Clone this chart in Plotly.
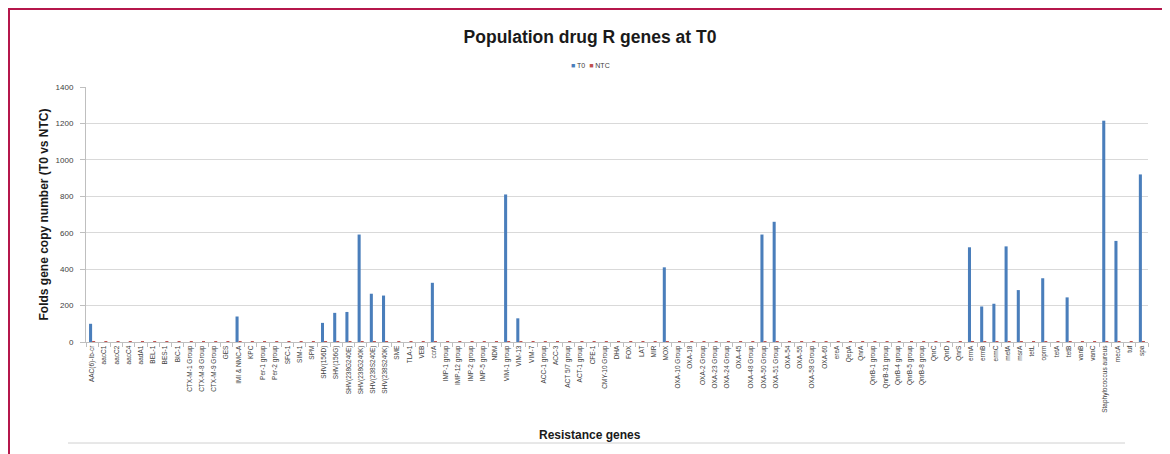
import plotly.graph_objects as go

genes = [
    "AAC(6)-Ib-cr", "aacC1", "aacC2", "aacC4", "aadA1", "BEL-1", "BES-1", "BIC-1",
    "CTX-M-1 Group", "CTX-M-8 Group", "CTX-M-9 Group", "GES", "IMI & NMC-A", "KPC",
    "Per-1 group", "Per-2 group", "SFC-1", "SIM-1", "SPM", "SHV(156D)", "SHV(156G)",
    "SHV(238G240E)", "SHV(238G240K)", "SHV(238S240E)", "SHV(238S240K)", "SME", "TLA-1",
    "VEB", "ccrA", "IMP-1 group", "IMP-12 group", "IMP-2 group", "IMP-5 group", "NDM",
    "VIM-1 group", "VIM-13", "VIM-7", "ACC-1 group", "ACC-3", "ACT 5/7 group",
    "ACT-1 group", "CFE-1", "CMY-10 Group", "DHA", "FOX", "LAT", "MIR", "MOX",
    "OXA-10 Group", "OXA-18", "OXA-2 Group", "OXA-23 Group", "OXA-24 Group", "OXA-45",
    "OXA-48 Group", "OXA-50 Group", "OXA-51 Group", "OXA-54", "OXA-55", "OXA-58 Group",
    "OXA-60", "ereA", "QepA", "QnrA", "QnrB-1 group", "QnrB-31 group", "QnrB-4 group",
    "QnrB-5 group", "QnrB-8 group", "QnrC", "QnrD", "QnrS", "ermA", "ermB", "ermC",
    "mefA", "msrA", "tetL", "oprm", "tetA", "tetB", "vanB", "vanC",
    "Staphylococcus aureus", "mecA", "tuf", "spa",
]

t0 = [
    100, 0, 0, 0, 0, 0, 0, 0,
    0, 0, 0, 0, 140, 0,
    0, 0, 0, 0, 0, 105, 160,
    165, 590, 265, 255, 0, 0,
    0, 325, 0, 0, 0, 0, 0,
    810, 130, 0, 0, 0, 0,
    0, 0, 0, 0, 0, 0, 0, 410,
    0, 0, 0, 0, 0, 0,
    0, 590, 660, 0, 0, 0,
    0, 0, 0, 0, 0, 0, 0,
    0, 0, 0, 0, 0, 520, 195, 210,
    525, 285, 0, 350, 0, 245, 0, 0,
    1215, 555, 0, 920,
]

ntc = [
    1, 1, 1, 1, 1, 1, 1, 1, 1, 1, 1, 1, 1, 1, 1, 1, 1, 1, 1, 1, 1, 1, 1, 1, 1, 1, 1, 1, 1,
    1, 1, 1, 1, 1, 1, 1, 1, 1, 1, 1, 1, 1, 1, 1, 1, 1, 1, 1, 1, 1, 1, 1, 1, 1, 1, 1, 1, 1,
    1, 1, 1, 1, 1, 1, 1, 1, 1, 1, 1, 1, 1, 1, 1, 1, 1, 1, 1, 1, 1, 1, 1, 1, 1, 1, 1, 1, 1,
]

y_ticks = [0, 200, 400, 600, 800, 1000, 1200, 1400]

C_T0 = "#4A7EBB"
C_NTC = "#C0504D"

fig = go.Figure()
fig.add_trace(go.Bar(x=genes, y=t0, name="T0", marker=dict(color=C_T0, line=dict(width=0))))
fig.add_trace(go.Bar(x=genes, y=ntc, name="NTC", marker=dict(color=C_NTC, line=dict(width=0))))

# page is offset by the 8px body margin; work in page coordinates
OFF = 8
W, H = 1170 - OFF, 454 - OFF
L, R, T, B = 86 - OFF, 22, 87 - OFF, 112
pw, ph = W - L - R, H - T - B


def px(xp):
    return (xp - OFF - L) / pw


def py(yp):
    return (H - B - (yp - OFF)) / ph


fig.update_layout(
    width=W, height=H,
    margin=dict(l=L, r=R, t=T, b=B, autoexpand=False),
    paper_bgcolor="white", plot_bgcolor="white",
    barmode="group", bargap=0.5, bargroupgap=0,
    showlegend=False,
    font=dict(family="Liberation Sans, Arial, sans-serif", color="#404040"),
    title=dict(
        text="<b>Population drug R genes at T0</b>",
        x=(590 - OFF) / W, xref="container", xanchor="center",
        y=1 - (37 - OFF) / H, yref="container", yanchor="middle",
        font=dict(size=17.5, color="#1a1a1a", family="Liberation Sans, Arial, sans-serif"),
    ),
    xaxis=dict(
        type="category", tickangle=-90, tickfont=dict(size=6.5, color="#404040"),
        showgrid=False, showline=True, linecolor="#BFBFBF", linewidth=1,
        ticks="outside", tickson="boundaries", ticklen=4, tickcolor="#BFBFBF",
        range=[-0.5, len(genes) - 0.5],
    ),
    yaxis=dict(
        range=[0, 1400], tickvals=y_ticks, tickfont=dict(size=8, color="#404040"),
        showgrid=True, gridcolor="#D9D9D9", gridwidth=1,
        showline=True, linecolor="#BFBFBF", linewidth=1,
        ticks="outside", ticklen=5, tickcolor="#BFBFBF", ticklabelstandoff=5,
        zeroline=False,
        title=dict(text="<b>Folds gene copy number (T0 vs NTC)</b>", font=dict(size=12, color="#1a1a1a"), standoff=4),
    ),
    annotations=[
        dict(
            text=f"<span style='color:{C_T0}'>■</span> T0  <span style='color:{C_NTC}'>■</span> NTC",
            xref="paper", yref="paper", x=px(590), y=py(65),
            xanchor="center", yanchor="middle", showarrow=False,
            font=dict(size=7, color="#404040"),
        ),
        dict(
            text="<b>Resistance genes</b>",
            xref="paper", yref="paper", x=px(590), y=py(435),
            xanchor="center", yanchor="middle", showarrow=False,
            font=dict(size=12, color="#1a1a1a"),
        ),
    ],
    shapes=[
        dict(type="line", xref="paper", yref="paper", x0=px(8), x1=px(1175), y0=py(9), y1=py(9),
             line=dict(color="#B5174B", width=2)),
        dict(type="line", xref="paper", yref="paper", x0=px(9), x1=px(9), y0=py(8), y1=py(460),
             line=dict(color="#B5174B", width=2)),
        dict(type="line", xref="paper", yref="paper", x0=px(68), x1=px(1125), y0=py(443), y1=py(443),
             line=dict(color="#D0D0D0", width=1)),
    ],
)

fig.write_html("out.html")
